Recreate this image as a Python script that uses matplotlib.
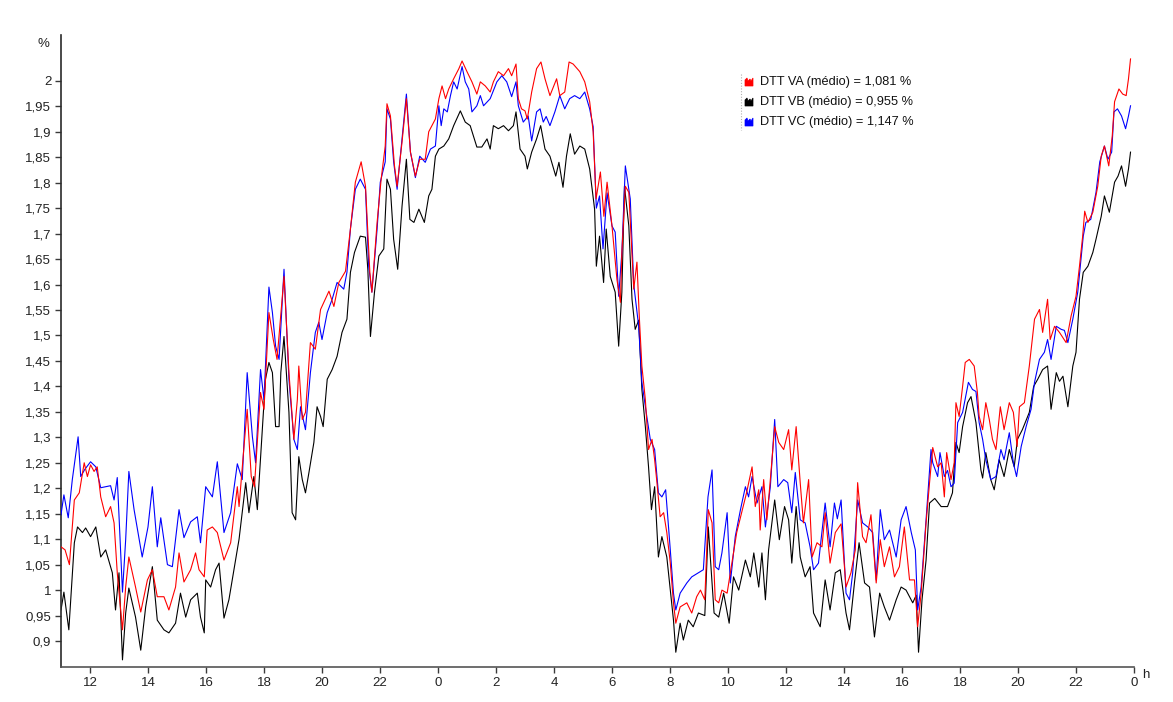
import matplotlib
matplotlib.use("Agg")
import matplotlib.pyplot as plt
from matplotlib.patches import Polygon

plt.rcParams['font.family'] = ['Liberation Sans', 'DejaVu Sans']

# ---- data (hours since midnight of day 1; 24+ = next day) ----
va_h = [11.0, 11.14, 11.29, 11.46, 11.63, 11.8, 11.91, 12.02, 12.14, 12.25, 12.37, 12.54, 12.71, 12.83, 12.94,
        13.12, 13.23, 13.34, 13.57, 13.75, 13.98, 14.15, 14.32, 14.55, 14.72, 14.95, 15.07, 15.24, 15.47, 15.64,
        15.76, 15.94, 16.04, 16.22, 16.39, 16.62, 16.85, 17.08, 17.14, 17.31, 17.42, 17.56, 17.67, 17.88, 18.0,
        18.17, 18.32, 18.45, 18.69, 18.86, 19.03, 19.15, 19.2, 19.32, 19.43, 19.6, 19.77, 19.95, 20.24, 20.41,
        20.58, 20.81, 20.98, 21.15, 21.35, 21.5, 21.65, 21.72, 21.9, 22.04, 22.18, 22.24, 22.36, 22.5, 22.59,
        22.76, 22.91, 23.05, 23.22, 23.37, 23.56, 23.68, 23.91, 24.03, 24.14, 24.26, 24.37, 24.54, 24.72, 24.83,
        25.0, 25.17, 25.34, 25.46, 25.63, 25.8, 25.91, 26.08, 26.26, 26.43, 26.54, 26.69, 26.77, 26.88, 27.0,
        27.08, 27.23, 27.4, 27.55, 27.69, 27.86, 28.09, 28.2, 28.37, 28.52, 28.66, 28.89, 29.06, 29.23, 29.35,
        29.45, 29.6, 29.72, 29.83, 30.0, 30.17, 30.29, 30.34, 30.46, 30.58, 30.75, 30.86, 30.94, 31.03, 31.15,
        31.26, 31.38, 31.47, 31.55, 31.66, 31.78, 31.89, 32.01, 32.12, 32.2, 32.35, 32.58, 32.75, 32.92, 33.05,
        33.2, 33.32, 33.45, 33.56, 33.68, 33.79, 33.97, 34.15, 34.3, 34.52, 34.64, 34.83, 34.94, 35.06, 35.11,
        35.23, 35.34, 35.46, 35.61, 35.75, 35.92, 36.09, 36.2, 36.35, 36.49, 36.6, 36.78, 36.9, 37.07, 37.24,
        37.35, 37.52, 37.7, 37.9, 38.07, 38.24, 38.39, 38.47, 38.64, 38.76, 38.93, 39.11, 39.25, 39.39, 39.57,
        39.74, 39.91, 40.08, 40.26, 40.43, 40.54, 40.66, 40.83, 40.95, 41.06, 41.23, 41.35, 41.46, 41.54, 41.69,
        41.8, 41.86, 41.97, 42.09, 42.18, 42.32, 42.49, 42.6, 42.66, 42.78, 42.89, 43.01, 43.12, 43.24, 43.39,
        43.52, 43.7, 43.84, 43.97, 44.05, 44.22, 44.39, 44.57, 44.74, 44.85, 45.02, 45.11, 45.26, 45.43, 45.66,
        45.83, 46.0, 46.12, 46.23, 46.3, 46.41, 46.58, 46.75, 46.87, 46.98, 47.13, 47.25, 47.33, 47.48, 47.61,
        47.73, 47.81, 47.88]
va_v = [1.085, 1.079, 1.05, 1.177, 1.191, 1.25, 1.223, 1.246, 1.233, 1.242, 1.183, 1.144, 1.164, 1.132, 1.034,
        0.922, 1.006, 1.065, 1.006, 0.957, 1.02, 1.04, 0.987, 0.987, 0.961, 1.006, 1.073, 1.016, 1.04, 1.073,
        1.04, 1.026, 1.118, 1.124, 1.113, 1.059, 1.093, 1.203, 1.164, 1.282, 1.355, 1.223, 1.203, 1.388, 1.355,
        1.545, 1.492, 1.453, 1.616, 1.427, 1.296, 1.374, 1.44, 1.335, 1.349, 1.486, 1.473, 1.551, 1.587, 1.557,
        1.604, 1.626, 1.709, 1.801, 1.841, 1.793, 1.624, 1.585, 1.722, 1.807, 1.872, 1.955, 1.931, 1.833, 1.793,
        1.88, 1.965, 1.86, 1.813, 1.846, 1.846, 1.9, 1.925, 1.965, 1.99, 1.965, 1.984, 2.004, 2.024, 2.039,
        2.018, 1.998, 1.974, 1.998, 1.99, 1.978, 1.998, 2.018, 2.01, 2.024, 2.01, 2.033, 1.965, 1.945, 1.941,
        1.925, 1.978, 2.024, 2.037, 2.004, 1.971, 2.004, 1.971, 1.978, 2.037, 2.033, 2.018, 1.998, 1.959, 1.9,
        1.768, 1.821, 1.734, 1.801, 1.715, 1.61, 1.565, 1.663, 1.793, 1.781, 1.591, 1.644, 1.538, 1.44, 1.374,
        1.276, 1.296, 1.256, 1.211, 1.144, 1.152, 1.113, 1.053, 0.975, 0.935, 0.967, 0.975, 0.955, 0.987, 1.0,
        0.981, 1.158, 1.132, 0.981, 0.975, 1.0, 0.994, 1.059, 1.113, 1.164, 1.191, 1.242, 1.164, 1.197, 1.118,
        1.217, 1.138, 1.217, 1.321, 1.29, 1.276, 1.315, 1.236, 1.321, 1.211, 1.132, 1.217, 1.065, 1.093, 1.085,
        1.152, 1.053, 1.113, 1.13, 1.006, 1.034, 1.079, 1.211, 1.105, 1.093, 1.148, 1.014, 1.099, 1.046, 1.085,
        1.026, 1.046, 1.124, 1.02, 1.02, 0.928, 0.994, 1.132, 1.211, 1.28, 1.242, 1.25, 1.183, 1.27, 1.217,
        1.25, 1.368, 1.341, 1.4, 1.447, 1.453, 1.44, 1.388, 1.341, 1.315, 1.368, 1.335, 1.296, 1.276, 1.36,
        1.315, 1.368, 1.349, 1.282, 1.36, 1.368, 1.44, 1.532, 1.551, 1.506, 1.571, 1.492, 1.518, 1.506, 1.486,
        1.538, 1.577, 1.636, 1.695, 1.744, 1.722, 1.742, 1.793, 1.852, 1.872, 1.833, 1.892, 1.959, 1.984, 1.974,
        1.971, 2.004, 2.043]

vb_h = [11.0, 11.1, 11.27, 11.46, 11.57, 11.74, 11.85, 12.02, 12.2, 12.37, 12.54, 12.77, 12.88, 13.0, 13.12,
        13.23, 13.34, 13.57, 13.75, 13.92, 14.15, 14.32, 14.55, 14.72, 14.95, 15.12, 15.3, 15.47, 15.7, 15.81,
        15.94, 15.99, 16.16, 16.33, 16.45, 16.62, 16.79, 17.02, 17.14, 17.37, 17.48, 17.65, 17.77, 17.94, 18.05,
        18.17, 18.29, 18.4, 18.52, 18.58, 18.69, 18.86, 18.97, 19.09, 19.2, 19.32, 19.43, 19.55, 19.72, 19.83,
        19.95, 20.04, 20.18, 20.35, 20.52, 20.69, 20.86, 20.98, 21.12, 21.32, 21.5, 21.58, 21.67, 21.81, 21.96,
        22.13, 22.24, 22.36, 22.47, 22.61, 22.76, 22.91, 23.03, 23.17, 23.34, 23.53, 23.68, 23.79, 23.91, 24.03,
        24.2, 24.37, 24.54, 24.77, 24.94, 25.11, 25.34, 25.51, 25.69, 25.8, 25.91, 26.08, 26.26, 26.43, 26.6,
        26.69, 26.83, 27.0, 27.08, 27.23, 27.4, 27.54, 27.69, 27.86, 28.06, 28.17, 28.31, 28.43, 28.56, 28.71,
        28.89, 29.06, 29.23, 29.4, 29.46, 29.57, 29.71, 29.8, 29.94, 30.11, 30.23, 30.34, 30.43, 30.58, 30.69,
        30.8, 30.92, 31.03, 31.15, 31.26, 31.36, 31.47, 31.6, 31.72, 31.89, 32.01, 32.12, 32.2, 32.35, 32.46,
        32.63, 32.8, 32.98, 33.2, 33.32, 33.52, 33.68, 33.85, 34.04, 34.19, 34.37, 34.6, 34.77, 34.89, 35.06,
        35.17, 35.29, 35.4, 35.61, 35.77, 35.95, 36.09, 36.2, 36.35, 36.49, 36.66, 36.83, 36.95, 37.18, 37.35,
        37.52, 37.7, 37.87, 38.07, 38.19, 38.36, 38.52, 38.71, 38.88, 39.05, 39.23, 39.39, 39.57, 39.8, 39.97,
        40.14, 40.37, 40.49, 40.57, 40.69, 40.83, 40.95, 41.13, 41.35, 41.57, 41.74, 41.86, 41.97, 42.09, 42.26,
        42.38, 42.55, 42.72, 42.78, 42.89, 43.06, 43.18, 43.35, 43.52, 43.7, 43.87, 43.98, 44.15, 44.39, 44.54,
        44.68, 44.85, 45.02, 45.14, 45.32, 45.43, 45.55, 45.72, 45.89, 46.0, 46.12, 46.25, 46.41, 46.58, 46.69,
        46.87, 46.98, 47.15, 47.33, 47.45, 47.57, 47.71, 47.81, 47.88]
vb_v = [0.961, 0.996, 0.922, 1.093, 1.124, 1.113, 1.122, 1.105, 1.124, 1.065, 1.079, 1.034, 0.961, 1.034, 0.863,
        0.955, 1.004, 0.947, 0.882, 0.967, 1.046, 0.941, 0.922, 0.916, 0.935, 0.994, 0.947, 0.981, 0.994, 0.947,
        0.916, 1.02, 1.006, 1.04, 1.053, 0.945, 0.981, 1.06, 1.10, 1.211, 1.152, 1.223, 1.158, 1.315, 1.414,
        1.447, 1.427, 1.321, 1.321, 1.427, 1.498, 1.349, 1.152, 1.138, 1.262, 1.217, 1.191, 1.231, 1.29, 1.36,
        1.341, 1.321, 1.414, 1.433, 1.459, 1.506, 1.532, 1.624, 1.663, 1.695, 1.693, 1.63, 1.498, 1.585, 1.656,
        1.67, 1.807, 1.787, 1.689, 1.63, 1.754, 1.846, 1.728, 1.722, 1.748, 1.722, 1.774, 1.787, 1.852, 1.866,
        1.872, 1.886, 1.912, 1.941, 1.919, 1.912, 1.87, 1.87, 1.886, 1.866, 1.912, 1.906, 1.912, 1.902, 1.912,
        1.939, 1.866, 1.852, 1.827, 1.86, 1.886, 1.912, 1.866, 1.852, 1.813, 1.84, 1.791, 1.852, 1.896, 1.856,
        1.872, 1.866, 1.827, 1.748, 1.636, 1.695, 1.604, 1.709, 1.616, 1.585, 1.479, 1.585, 1.793, 1.715, 1.571,
        1.512, 1.53, 1.394, 1.321, 1.242, 1.158, 1.203, 1.065, 1.105, 1.065, 1.0, 0.941, 0.878, 0.935, 0.902,
        0.941, 0.928, 0.955, 0.95, 1.124, 0.955, 0.947, 0.994, 0.935, 1.026, 1.0, 1.059, 1.026, 1.073, 1.006,
        1.073, 0.981, 1.079, 1.177, 1.099, 1.164, 1.138, 1.053, 1.164, 1.065, 1.026, 1.046, 0.955, 0.928, 1.02,
        0.961, 1.034, 1.04, 0.955, 0.922, 1.014, 1.093, 1.014, 1.006, 0.908, 0.994, 0.967, 0.941, 0.981, 1.006,
        1.0, 0.975, 0.99, 0.878, 0.981, 1.059, 1.171, 1.18, 1.164, 1.164, 1.191, 1.29, 1.27, 1.321, 1.368,
        1.38, 1.329, 1.236, 1.22, 1.27, 1.217, 1.197, 1.256, 1.223, 1.276, 1.242, 1.296, 1.315, 1.349, 1.4,
        1.414, 1.433, 1.44, 1.355, 1.427, 1.41, 1.42, 1.36, 1.44, 1.467, 1.571, 1.624, 1.636, 1.663, 1.689,
        1.734, 1.774, 1.742, 1.801, 1.813, 1.833, 1.793, 1.827, 1.86]

vc_h = [11.0, 11.1, 11.25, 11.39, 11.59, 11.68, 11.82, 12.02, 12.2, 12.37, 12.71, 12.83, 12.94, 13.12, 13.23,
        13.34, 13.52, 13.8, 14.0, 14.15, 14.32, 14.44, 14.67, 14.84, 15.07, 15.24, 15.47, 15.7, 15.81, 15.99,
        16.22, 16.39, 16.62, 16.85, 17.08, 17.25, 17.42, 17.6, 17.71, 17.88, 18.0, 18.17, 18.29, 18.4, 18.52,
        18.69, 18.86, 19.03, 19.15, 19.26, 19.43, 19.6, 19.77, 19.89, 20.0, 20.18, 20.35, 20.52, 20.75, 20.86,
        20.98, 21.15, 21.32, 21.5, 21.61, 21.72, 21.9, 22.01, 22.18, 22.24, 22.36, 22.47, 22.59, 22.76, 22.91,
        23.05, 23.22, 23.37, 23.56, 23.74, 23.91, 24.03, 24.11, 24.2, 24.32, 24.43, 24.54, 24.66, 24.83, 24.94,
        25.06, 25.17, 25.34, 25.46, 25.57, 25.8, 26.03, 26.2, 26.37, 26.54, 26.69, 26.77, 26.94, 27.11, 27.23,
        27.4, 27.52, 27.63, 27.73, 27.86, 28.03, 28.2, 28.37, 28.54, 28.71, 28.89, 29.06, 29.23, 29.35, 29.46,
        29.57, 29.69, 29.83, 30.0, 30.11, 30.23, 30.34, 30.46, 30.63, 30.75, 30.92, 31.03, 31.2, 31.32, 31.47,
        31.6, 31.72, 31.85, 32.01, 32.12, 32.2, 32.35, 32.58, 32.75, 32.98, 33.15, 33.31, 33.45, 33.56, 33.68,
        33.79, 33.97, 34.08, 34.25, 34.43, 34.6, 34.71, 34.83, 35.0, 35.17, 35.29, 35.46, 35.61, 35.72, 35.92,
        36.06, 36.2, 36.32, 36.49, 36.66, 36.83, 36.95, 37.12, 37.35, 37.52, 37.67, 37.77, 37.9, 38.07, 38.19,
        38.3, 38.47, 38.64, 38.82, 38.99, 39.11, 39.25, 39.39, 39.57, 39.8, 39.97, 40.14, 40.32, 40.46, 40.54,
        40.66, 40.83, 41.0, 41.06, 41.23, 41.31, 41.46, 41.57, 41.69, 41.8, 41.92, 42.09, 42.29, 42.43, 42.55,
        42.66, 42.78, 42.89, 43.06, 43.24, 43.41, 43.52, 43.7, 43.84, 43.95, 44.11, 44.28, 44.45, 44.57, 44.74,
        44.91, 45.02, 45.14, 45.32, 45.49, 45.6, 45.72, 45.89, 46.06, 46.17, 46.25, 46.34, 46.51, 46.69, 46.82,
        46.98, 47.1, 47.23, 47.31, 47.43, 47.57, 47.71, 47.81, 47.88]
vc_v = [1.148, 1.187, 1.142, 1.217, 1.301, 1.223, 1.237, 1.252, 1.242, 1.201, 1.205, 1.177, 1.221, 0.996, 1.099,
        1.233, 1.158, 1.065, 1.124, 1.203, 1.085, 1.142, 1.05, 1.046, 1.158, 1.103, 1.134, 1.144, 1.093, 1.203,
        1.183, 1.252, 1.113, 1.152, 1.248, 1.217, 1.427, 1.301, 1.25, 1.433, 1.374, 1.595, 1.545, 1.479, 1.453,
        1.63, 1.414, 1.296, 1.276, 1.36, 1.315, 1.427, 1.506, 1.526, 1.492, 1.545, 1.571, 1.604, 1.591, 1.624,
        1.709, 1.787, 1.807, 1.787, 1.636, 1.585, 1.709, 1.801, 1.841, 1.945, 1.925, 1.841, 1.787, 1.886, 1.974,
        1.86, 1.81, 1.852, 1.84, 1.866, 1.872, 1.951, 1.912, 1.945, 1.939, 1.971, 1.998, 1.984, 2.028, 1.998,
        1.984, 1.939, 1.951, 1.971, 1.951, 1.965, 1.998, 2.01, 1.998, 1.969, 1.998, 1.951, 1.919, 1.931, 1.882,
        1.939, 1.945, 1.919, 1.93, 1.912, 1.939, 1.971, 1.945, 1.965, 1.971, 1.965, 1.978, 1.945, 1.91, 1.75,
        1.774, 1.67, 1.78, 1.715, 1.703, 1.577, 1.663, 1.833, 1.768, 1.6, 1.518, 1.408, 1.341, 1.296, 1.276,
        1.191, 1.183, 1.197, 1.079, 0.994, 0.961, 0.994, 1.014, 1.026, 1.034, 1.04, 1.183, 1.236, 1.046, 1.04,
        1.073, 1.152, 1.014, 1.105, 1.158, 1.203, 1.183, 1.223, 1.171, 1.203, 1.124, 1.203, 1.335, 1.203, 1.217,
        1.211, 1.152, 1.231, 1.138, 1.132, 1.085, 1.04, 1.053, 1.171, 1.085, 1.171, 1.14, 1.177, 0.994, 0.981,
        1.034, 1.177, 1.132, 1.124, 1.113, 1.02, 1.158, 1.099, 1.118, 1.065, 1.138, 1.164, 1.113, 1.079, 0.961,
        1.006, 1.138, 1.276, 1.25, 1.223, 1.27, 1.223, 1.235, 1.203, 1.21, 1.329, 1.349, 1.408, 1.394, 1.39,
        1.329, 1.296, 1.256, 1.217, 1.223, 1.276, 1.256, 1.309, 1.25, 1.223, 1.282, 1.321, 1.355, 1.408, 1.453,
        1.467, 1.492, 1.453, 1.518, 1.512, 1.51, 1.486, 1.532, 1.585, 1.65, 1.695, 1.722, 1.728, 1.781, 1.841,
        1.872, 1.846, 1.86, 1.939, 1.945, 1.931, 1.906, 1.931, 1.951]

series_names = ["DTT VA (médio) = 1,081 %", "DTT VB (médio) = 0,955 %", "DTT VC (médio) = 1,147 %"]
series_colors = ["#ff0000", "#000000", "#0000ff"]
x_ticks = list(range(12, 49, 2))
x_labels = [str(h % 24) for h in x_ticks]
y_ticks = [0.9, 0.95, 1.0, 1.05, 1.1, 1.15, 1.2, 1.25, 1.3, 1.35, 1.4, 1.45, 1.5, 1.55, 1.6, 1.65,
           1.7, 1.75, 1.8, 1.85, 1.9, 1.95, 2.0]

# ---- figure ----
W, H = 1173, 702
fig = plt.figure(figsize=(W / 100, H / 100), dpi=100)
ax = fig.add_axes([61 / W, 35 / H, (1134 - 61) / W, (667 - 35) / H])

ax.plot(vb_h, vb_v, color=series_colors[1], lw=0.8, zorder=2)
ax.plot(vc_h, vc_v, color=series_colors[2], lw=0.8, zorder=3)
ax.plot(va_h, va_v, color=series_colors[0], lw=0.8, zorder=4)

ax.set_xlim(11.0, 48.0)
ax.set_ylim(0.849, 2.09)

for s in ["top", "right"]:
    ax.spines[s].set_visible(False)
ax.spines["left"].set_color("#2a2a2a")
ax.spines["bottom"].set_color("#555555")
for s in ["left", "bottom"]:
    ax.spines[s].set_linewidth(1.2)

ax.set_xticks(x_ticks)
ax.set_xticklabels(x_labels)
ax.set_yticks(y_ticks)
ax.set_yticklabels([("%g" % v).replace(".", ",") for v in y_ticks])
ax.tick_params(axis="both", direction="out", length=4, width=1, color="#3a3a3a",
               labelsize=9.5, labelcolor="#222222", pad=3)

fig.text(43 / W, 1 - 44 / H, "%", fontsize=9.5, color="#222222", ha="center", va="center")
fig.text(1146 / W, 1 - 675 / H, "h", fontsize=9.5, color="#222222", ha="center", va="center")

# legend (custom)
fig.add_artist(plt.Line2D([741 / W, 741 / W], [1 - 74 / H, 1 - 130 / H], color="#b0b0b0",
                          lw=0.8, ls=(0, (1, 1.5))))
for i, (name, col) in enumerate(zip(series_names, series_colors)):
    yc = 82 + 20 * i
    x0 = 745
    pts = [(x0, yc + 4), (x0, yc - 2), (x0 + 2, yc - 4), (x0 + 3, yc - 1), (x0 + 5, yc - 3),
           (x0 + 6, yc - 1), (x0 + 8, yc - 4), (x0 + 8, yc + 4)]
    poly = Polygon([(px / W, 1 - py / H) for px, py in pts], closed=True, facecolor=col,
                   edgecolor=col, lw=0.5, transform=fig.transFigure)
    fig.add_artist(poly)
    fig.text(760 / W, 1 - yc / H, name, fontsize=9.2, color="#111111", ha="left", va="center")

fig.savefig("out.png", dpi=100)
